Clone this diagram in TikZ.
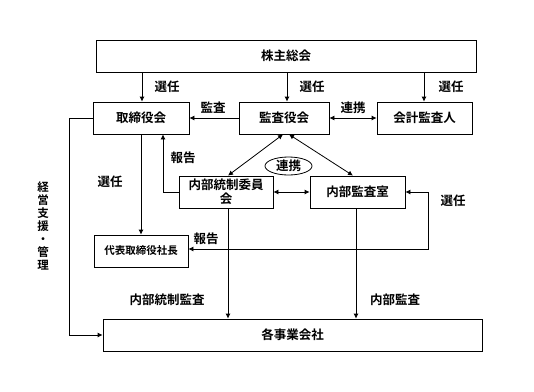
\documentclass[tikz,border=0pt]{standalone}
\usepackage{fontspec}
\setmainfont{Noto Sans CJK JP}[BoldFont={Noto Sans CJK JP Bold}]
\usetikzlibrary{arrows.meta,shapes.geometric}
\begin{document}
\begin{tikzpicture}[x=1pt,y=-1pt,
  box/.style={draw,line width=0.8pt,minimum height=32pt,inner sep=0pt,align=center,font=\fontsize{12.5}{13.5}\selectfont\bfseries},
  lbl/.style={inner sep=0pt,font=\fontsize{12.5}{13.5}\selectfont\bfseries},
  conn/.style={line width=0.8pt,-{Latex[length=5pt,width=5pt]}},
  bconn/.style={line width=0.8pt,{Latex[length=5pt,width=5pt]}-{Latex[length=5pt,width=5pt]}}]
\useasboundingbox (0,0) rectangle (534,391);
\node[box,minimum width=380pt] (top) at (286,56) {株主総会};
\node[box,minimum width=96pt] (tori) at (141,118) {取締役会};
\node[box,minimum width=90pt] (kansa) at (284,118) {監査役会};
\node[box,minimum width=95pt] (kaikei) at (424.5,118) {会計監査人};
\node[box,minimum width=94pt,font=\fontsize{12.5}{14}\selectfont\bfseries] (naibu) at (226,192) {内部統制委員\\会};
\node[box,minimum width=95pt] (shitsu) at (357.5,192) {内部監査室};
\node[box,minimum width=94pt,font=\fontsize{10.5}{12}\selectfont\bfseries] (shacho) at (141,251) {代表取締役社長};
\node[box,minimum width=379pt] (jigyo) at (292.5,335) {各事業会社};
\node[draw,ellipse,line width=0.8pt,minimum width=47pt,minimum height=18pt,inner sep=0pt,font=\fontsize{12.5}{13.5}\selectfont\bfseries] (renkei) at (288.5,166) {連携};
% arrows from top
\draw[conn] ([xshift=1pt]top.south -| tori.north) -- ([xshift=1pt]tori.north);
\draw[conn] ([xshift=3pt]top.south -| kansa.north) -- ([xshift=3pt]kansa.north);
\draw[conn] ([xshift=-0.5pt]top.south -| kaikei.north) -- ([xshift=-0.5pt]kaikei.north);
\node[lbl] (l1) at (167,87) {選任};
\node[lbl] (l2) at (312,87) {選任};
\node[lbl] (l3) at (451,87) {選任};
% row 2
\draw[conn] (kansa.west) -- (tori.east);
\node[lbl] (l4) at (213,108) {監査};
\draw[bconn] (kansa.east) -- (kaikei.west);
\node[lbl] (l5) at (353,108) {連携};
% management line
\draw[conn] (tori.west) -- ++(-23,0) |- (jigyo.west);
\node[lbl,align=center,font=\fontsize{11.5}{13}\selectfont\bfseries] (l6) at (43,226) {経\\営\\支\\援\\・\\管\\理};
% tori to shacho
\draw[conn] (tori.south) -- (shacho.north);
\node[lbl] (l7) at (110,182) {選任};
% report from naibu
\draw[conn] (naibu.west) -| ([xshift=22pt]tori.south);
\node[lbl] (l8) at (183,158) {報告};
% kansa to naibu / shitsu
\draw[bconn] ([xshift=-1pt]kansa.south) -- ([xshift=2pt]naibu.north);
\draw[bconn] ([xshift=5pt]kansa.south) -- ([xshift=-4.5pt]shitsu.north);
\draw[bconn] (naibu.east) -- (shitsu.west);
% shitsu to shacho
\draw[bconn] (shitsu.east) -- ++(23,0) |- ([yshift=2pt]shacho.east);
\node[lbl] (l9) at (453,201) {選任};
\node[lbl] (l10) at (206,239) {報告};
% down to jigyo
\draw[conn] ([xshift=2pt]naibu.south) -- ([xshift=2pt]naibu.south |- jigyo.north);
\draw[conn] ([xshift=-1.5pt]shitsu.south) -- ([xshift=-1.5pt]shitsu.south |- jigyo.north);
\node[lbl] (l11) at (167,300) {内部統制監査};
\node[lbl] (l12) at (395,300) {内部監査};
\end{tikzpicture}
\end{document}
